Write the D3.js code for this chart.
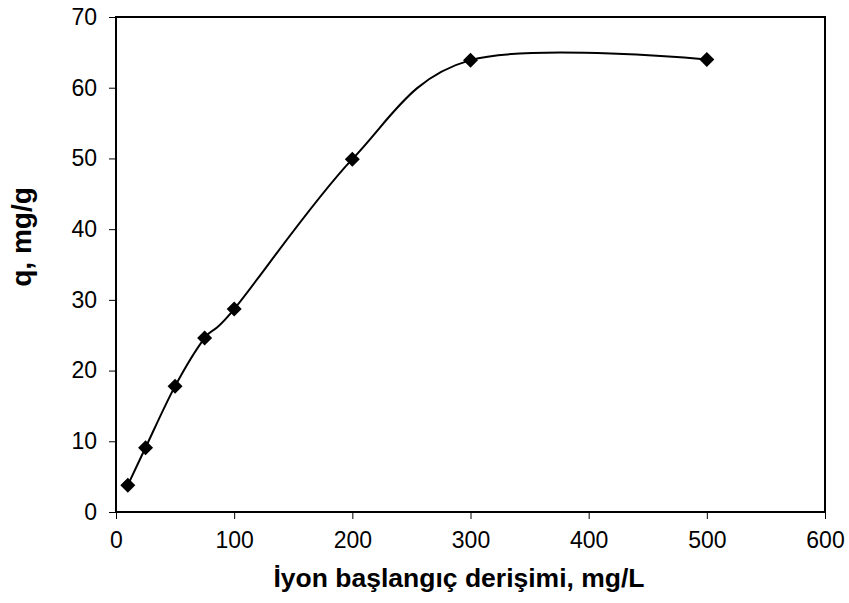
<!DOCTYPE html>
<html><head><meta charset="utf-8">
<script src="https://cdn.jsdelivr.net/npm/d3@7"></script>
<style>body{margin:0;background:#fff}svg text{font-family:"Liberation Sans",Arial,sans-serif}</style>
</head><body>
<svg id="c" width="849" height="603"></svg>
<script>
const xValues = [10, 25, 50, 75, 100, 200, 300, 500];
const qValues = [3.8, 9.1, 17.8, 24.6, 28.7, 49.9, 63.9, 64.0];
const xTicks = [0, 100, 200, 300, 400, 500, 600];
const yTicks = [0, 10, 20, 30, 40, 50, 60, 70];
const xTitle = "İyon başlangıç derişimi, mg/L";
const yTitle = "q, mg/g";

const svg = d3.select("#c");
const L = 116, R = 825, T = 17, B = 512;
const x = d3.scaleLinear().domain([0, 600]).range([L, R]);
const y = d3.scaleLinear().domain([0, 70]).range([B, T]);

const gx = svg.append("g").attr("transform", `translate(0,${B})`)
  .call(d3.axisBottom(x).tickValues(xTicks).tickSize(7).tickSizeOuter(0).tickPadding(13));
const gy = svg.append("g").attr("transform", `translate(${L},0)`)
  .call(d3.axisLeft(y).tickValues(yTicks).tickSize(7).tickSizeOuter(0).tickPadding(12));
[gx, gy].forEach(g => {
  g.select(".domain").remove();
  g.selectAll("line").attr("stroke", "#000").attr("stroke-width", 1);
  g.selectAll("text").attr("font-size", 23).attr("fill", "#000");
});

svg.append("rect").attr("x", L).attr("y", T).attr("width", R - L).attr("height", B - T)
  .attr("fill", "none").attr("stroke", "#000").attr("stroke-width", 2);

const pts = xValues.map((v, i) => [x(v), y(qValues[i])]);
svg.append("path").attr("d", d3.line().curve(d3.curveCardinal.tension(0))(pts))
  .attr("fill", "none").attr("stroke", "#000").attr("stroke-width", 2);

const r = 7.5;
svg.append("g").selectAll("path").data(pts).join("path")
  .attr("d", d => `M${d[0]},${d[1]-r}L${d[0]+r},${d[1]}L${d[0]},${d[1]+r}L${d[0]-r},${d[1]}Z`)
  .attr("fill", "#000");

svg.append("text").attr("x", 459).attr("y", 587).attr("text-anchor", "middle")
  .attr("font-size", 26.5).attr("font-weight", "bold").text(xTitle);
svg.append("text").attr("transform", `translate(31,237) rotate(-90)`)
  .attr("text-anchor", "middle").attr("font-size", 28).attr("font-weight", "bold").text(yTitle);
</script>
</body></html>
